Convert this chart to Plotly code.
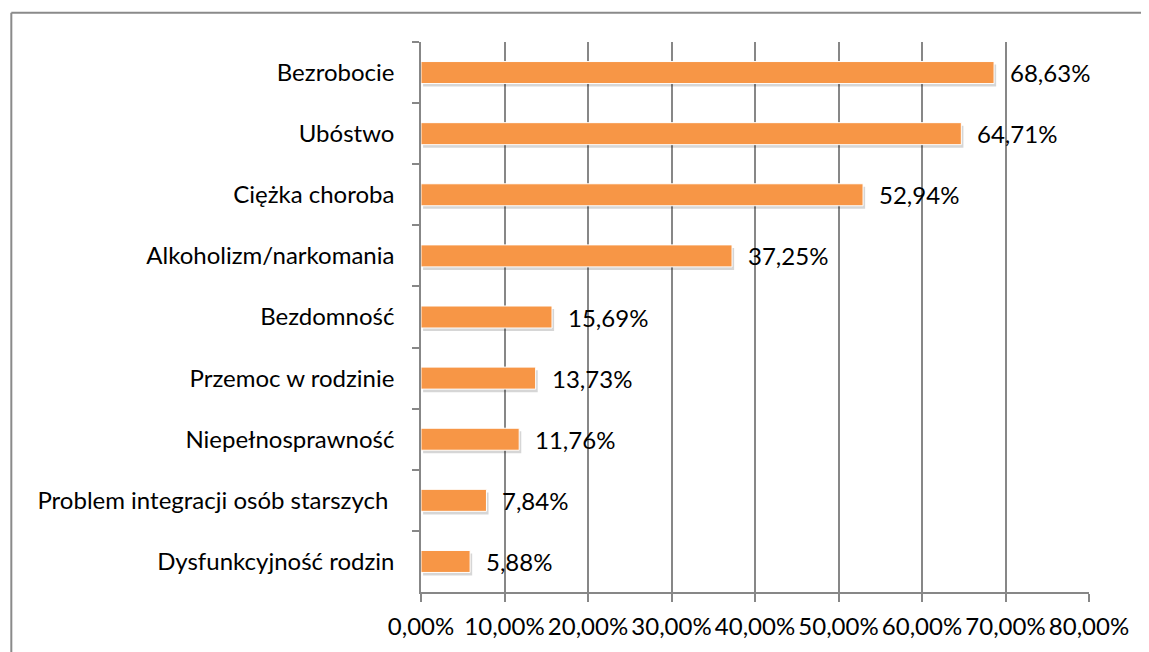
import plotly.graph_objects as go

categories = [
    "Bezrobocie",
    "Ubóstwo",
    "Ciężka choroba",
    "Alkoholizm/narkomania",
    "Bezdomność",
    "Przemoc w rodzinie",
    "Niepełnosprawność",
    "Problem integracji osób starszych\u00a0",
    "Dysfunkcyjność rodzin",
]
values = [68.63, 64.71, 52.94, 37.25, 15.69, 13.73, 11.76, 7.84, 5.88]
value_labels = ["68,63%", "64,71%", "52,94%", "37,25%", "15,69%", "13,73%", "11,76%", "7,84%", "5,88%"]

FONT = "Lato"
GRID = "#878787"
BAR_W = 0.36

fig = go.Figure()
# soft shadow under the bars
fig.add_trace(go.Bar(
    x=values, y=categories, orientation="h", base=0.25,
    width=BAR_W, offset=-BAR_W / 2 + 0.05,
    marker=dict(color="rgba(0,0,0,0.16)", line=dict(width=0)),
    hoverinfo="skip",
))
fig.add_trace(go.Bar(
    x=values, y=categories, orientation="h",
    width=BAR_W, offset=-BAR_W / 2,
    marker=dict(color="#F79646", line=dict(color="white", width=1)),
    hoverinfo="x+y",
))

for v, lab, cat in zip(values, value_labels, categories):
    fig.add_annotation(x=v, y=cat, text=lab, showarrow=False, xanchor="left",
                       xshift=14, font=dict(family=FONT, size=24, color="#000"))

# chart frame (top and left edge visible)
fig.add_shape(type="line", xref="paper", yref="paper", x0=-0.6133, x1=1.3, y0=1.053, y1=1.053,
              line=dict(color="#8a8a8a", width=2))
fig.add_shape(type="line", xref="paper", yref="paper", x0=-0.6133, x1=-0.6133, y0=-0.3, y1=1.053,
              line=dict(color="#8a8a8a", width=2))

# the page body adds an 8px margin, so the figure is sized to fit the window
fig.update_layout(
    width=1133, height=644,
    margin=dict(l=413, r=49, t=34, b=44),
    paper_bgcolor="white", plot_bgcolor="white",
    separators=",.",
    barmode="overlay",
    showlegend=False,
    font=dict(family=FONT, size=24, color="#000"),
    xaxis=dict(
        range=[0, 80], dtick=10, tickformat=".2f", ticksuffix="%",
        showgrid=True, gridcolor=GRID, gridwidth=1.5,
        showline=True, linecolor=GRID, linewidth=1.5,
        ticks="outside", ticklen=8, tickcolor=GRID, tickwidth=1.5,
        ticklabelstandoff=4,
        zeroline=False, fixedrange=True,
    ),
    yaxis=dict(
        autorange="reversed",
        showline=True, linecolor=GRID, linewidth=1.5,
        ticks="outside", ticklen=7, tickcolor=GRID, tickwidth=1.5,
        tickson="boundaries", ticklabelstandoff=20,
        showgrid=False, zeroline=False, fixedrange=True,
    ),
)

fig.write_html("out.html")
